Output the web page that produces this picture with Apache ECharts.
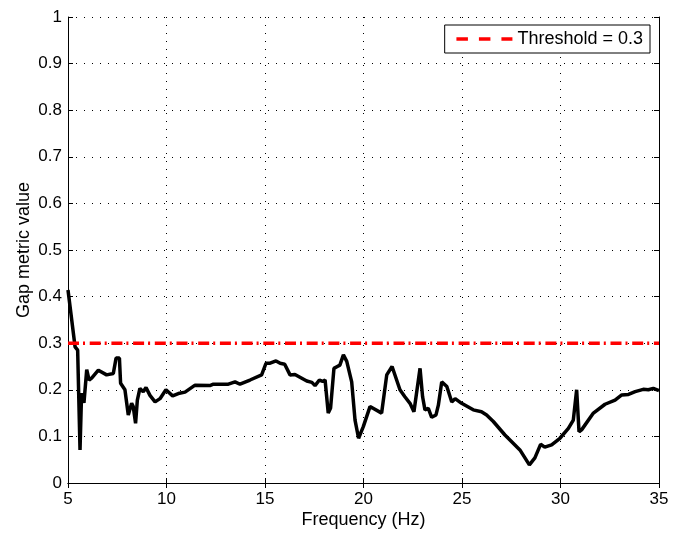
<!DOCTYPE html>
<html>
<head>
<meta charset="utf-8">
<script src="https://cdn.jsdelivr.net/npm/echarts@6/dist/echarts.min.js"></script>
<style>
  html, body { margin: 0; padding: 0; background: #fff; }
  #chart { width: 681px; height: 534px; }
</style>
</head>
<body>
<div id="chart"></div>
<script>
// gap metric curve (frequency Hz, value)
var freq = [5.0, 5.36, 5.49, 5.61, 5.69, 5.81, 5.87, 5.95, 6.07, 6.2, 6.54, 6.96, 7.3, 7.44, 7.61, 7.67, 7.89, 8.06, 8.23, 8.31,
  8.43, 8.52, 8.65, 8.82, 8.96, 9.16, 9.42, 9.67, 9.97, 10.31, 10.6, 10.94, 11.45, 12.2, 12.38, 13.14, 13.48, 13.73, 14.24, 14.83,
  15.05, 15.26, 15.56, 15.77, 16.0, 16.27, 16.52, 17.12, 17.38, 17.54, 17.76, 17.93, 18.05, 18.21, 18.33, 18.5, 18.67, 18.8, 18.98, 19.15,
  19.4, 19.57, 19.75, 19.99, 20.33, 20.92, 21.18, 21.45, 21.85, 22.1, 22.36, 22.56, 22.66, 22.87, 23.0, 23.12, 23.29, 23.46, 23.68, 23.8,
  23.97, 24.23, 24.48, 24.65, 24.98, 25.57, 25.99, 26.25, 26.59, 27.18, 27.94, 28.42, 28.7, 28.99, 29.2, 29.55, 29.97, 30.4, 30.65, 30.82,
  30.94, 31.07, 31.67, 32.26, 32.77, 33.11, 33.45, 33.79, 34.2, 34.46, 34.71, 35.0];
var gap = [0.414, 0.292, 0.285, 0.071, 0.193, 0.172, 0.175, 0.243, 0.221, 0.225, 0.242, 0.232, 0.235, 0.268, 0.268, 0.214, 0.2, 0.146, 0.171, 0.164,
  0.128, 0.178, 0.203, 0.196, 0.205, 0.188, 0.174, 0.181, 0.2, 0.187, 0.192, 0.195, 0.21, 0.209, 0.212, 0.212, 0.217, 0.212, 0.221, 0.232,
  0.257, 0.257, 0.262, 0.257, 0.255, 0.232, 0.233, 0.219, 0.216, 0.209, 0.221, 0.218, 0.221, 0.15, 0.161, 0.246, 0.25, 0.253, 0.275, 0.261,
  0.217, 0.135, 0.096, 0.121, 0.164, 0.15, 0.232, 0.25, 0.2, 0.185, 0.171, 0.153, 0.153, 0.246, 0.185, 0.157, 0.16, 0.141, 0.146, 0.167,
  0.217, 0.207, 0.174, 0.181, 0.171, 0.157, 0.153, 0.146, 0.132, 0.103, 0.071, 0.039, 0.054, 0.083, 0.077, 0.082, 0.096, 0.117, 0.135, 0.2,
  0.11, 0.114, 0.15, 0.169, 0.178, 0.189, 0.19, 0.196, 0.201, 0.2, 0.203, 0.198];
var threshold = 0.3;

var curve = freq.map(function (f, i) { return [f, gap[i]]; });
var font = 'Liberation Sans';

var chartDom = document.getElementById('chart');
var myChart = echarts.init(chartDom);
var option;

var gridLine = { show: true, lineStyle: { color: '#000', type: [1, 7], width: 1 } };
var tick = { show: true, inside: true, length: 5, lineStyle: { color: '#000' } };

option = {
  backgroundColor: '#fff',
  animation: false,
  textStyle: { fontFamily: font },
  grid: { left: 68, right: 22, top: 17, bottom: 51, outerBoundsMode: 'none' },
  legend: {
    right: 31, top: 25,
    data: ['Threshold = 0.3'],
    backgroundColor: '#fff',
    borderColor: '#000',
    borderWidth: 1,
    borderRadius: 0,
    padding: [5, 7, 5, 10],
    itemWidth: 56,
    itemHeight: 18,
    itemStyle: { opacity: 0 },
    lineStyle: { type: [11.5, 11], width: 3.5, color: '#ff0000' },
    textStyle: { fontFamily: font, fontSize: 18, color: '#000' }
  },
  xAxis: [{
    type: 'value', min: 5, max: 35, interval: 5,
    name: 'Frequency (Hz)', nameLocation: 'middle', nameGap: 28, nameMoveOverlap: false,
    nameTextStyle: { fontFamily: font, fontSize: 18, color: '#000' },
    axisLine: { lineStyle: { color: '#000', width: 1 } },
    axisTick: tick,
    axisLabel: { color: '#000', fontSize: 17, fontFamily: font, margin: 8 },
    splitLine: gridLine
  }, {
    type: 'value', min: 5, max: 35, interval: 5, position: 'top',
    axisLine: { lineStyle: { color: '#000', width: 1 } },
    axisTick: tick,
    axisLabel: { show: false }, splitLine: { show: false }
  }],
  yAxis: [{
    type: 'value', min: 0, max: 1, interval: 0.1,
    name: 'Gap metric value', nameLocation: 'middle', nameGap: 35, nameMoveOverlap: false,
    nameTextStyle: { fontFamily: font, fontSize: 18, color: '#000' },
    axisLine: { show: true, lineStyle: { color: '#000', width: 1 } },
    axisTick: tick,
    axisLabel: {
      color: '#000', fontSize: 17, fontFamily: font, margin: 6,
      formatter: function (v) { return String(Math.round(v * 10) / 10); }
    },
    splitLine: gridLine
  }, {
    type: 'value', min: 0, max: 1, interval: 0.1, position: 'right',
    axisLine: { show: true, lineStyle: { color: '#000', width: 1 } },
    axisTick: tick,
    axisLabel: { show: false }, splitLine: { show: false }
  }],
  series: [
    {
      name: 'gap',
      type: 'line',
      data: curve,
      showSymbol: false,
      symbol: 'none',
      lineStyle: { color: '#000', width: 3.5 },
      z: 3
    },
    {
      name: 'Threshold = 0.3',
      type: 'line',
      data: [[5, threshold], [35, threshold]],
      symbol: 'none',
      lineStyle: { color: '#ff0000', width: 3.5, type: [11, 4, 2, 4.7] },
      itemStyle: { color: '#ff0000' },
      z: 4
    }
  ]
};

option && myChart.setOption(option);
</script>
</body>
</html>
